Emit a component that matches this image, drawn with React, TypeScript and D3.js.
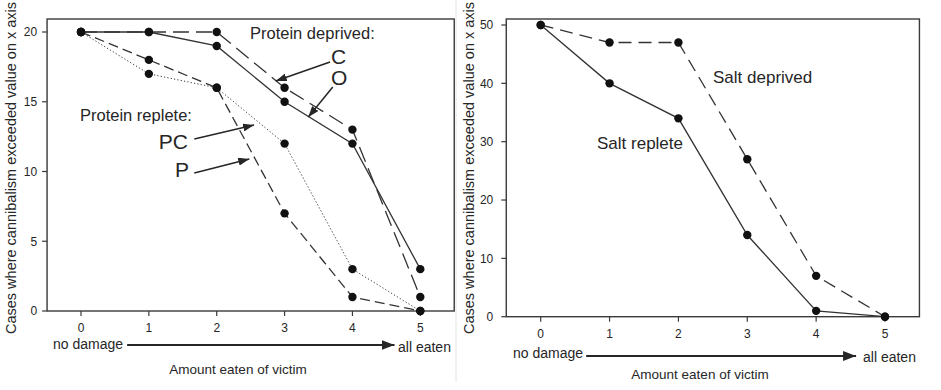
import React, { useEffect, useRef } from 'react';
import * as d3 from 'd3';

// amount eaten categories (0 = no damage, 5 = all eaten)
const amounts = [0, 1, 2, 3, 4, 5];

// left panel: protein experiment
const proteinC = [20, 20, 20, 16, 13, 1];
const proteinO = [20, 20, 19, 15, 12, 3];
const proteinPC = [20, 17, 16, 12, 3, 0];
const proteinP = [20, 18, 16, 7, 1, 0];
const leftYTicks = [0, 5, 10, 15, 20];

// right panel: salt experiment
const saltDeprived = [50, 47, 47, 27, 7, 0];
const saltReplete = [50, 40, 34, 14, 1, 0];
const rightYTicks = [0, 10, 20, 30, 40, 50];

const FONT = '"Liberation Sans", Arial, Helvetica, sans-serif';
const INK = '#262626';

const App = () => {
  const svgRef = useRef<SVGSVGElement>(null);

  useEffect(() => {
    if (!svgRef.current) return;
    const svg = d3.select(svgRef.current);
    svg.selectAll('*').remove();

    const defs = svg.append('defs');
    const addMarker = (id: string, w: number, h: number) => {
      defs.append('marker')
        .attr('id', id)
        .attr('viewBox', `0 0 ${w} ${h}`)
        .attr('refX', w)
        .attr('refY', h / 2)
        .attr('markerWidth', w)
        .attr('markerHeight', h)
        .attr('markerUnits', 'userSpaceOnUse')
        .attr('orient', 'auto')
        .append('path')
        .attr('d', `M0,0L${w},${h / 2}L0,${h}Z`)
        .attr('fill', INK);
    };
    addMarker('head-small', 11, 8);
    addMarker('head-axis', 13, 10);

    // divider between the two images
    svg.append('line')
      .attr('x1', 456).attr('x2', 456)
      .attr('y1', 0).attr('y2', 382)
      .attr('stroke', '#e4e4e4')
      .attr('stroke-width', 1);

    type Series = { values: number[]; dash: string; width: number };

    const drawPanel = (opts: {
      x: d3.ScaleLinear<number, number>;
      y: d3.ScaleLinear<number, number>;
      top: number;
      yTicks: number[];
      series: Series[];
      tickBaseline: number;
      yLabelX: number;
      tickLabelGap: number;
    }) => {
      const { x, y, top, yTicks, series } = opts;
      const g = svg.append('g');
      const [x0, x1] = [x(-0.5), x(5.5)];
      const bottom = y(0);

      g.append('rect')
        .attr('x', x0).attr('y', top)
        .attr('width', x1 - x0).attr('height', bottom - top)
        .attr('fill', 'none')
        .attr('stroke', '#3a3a3a')
        .attr('stroke-width', 1.4);

      // y ticks
      yTicks.forEach(t => {
        g.append('line')
          .attr('x1', x0 - 5).attr('x2', x0)
          .attr('y1', y(t)).attr('y2', y(t))
          .attr('stroke', '#3a3a3a').attr('stroke-width', 1.2);
        g.append('text')
          .attr('x', x0 - opts.tickLabelGap).attr('y', y(t))
          .attr('dy', '0.36em')
          .attr('text-anchor', 'end')
          .attr('font-size', 12)
          .attr('fill', INK)
          .text(t);
      });

      // x ticks
      amounts.forEach(a => {
        g.append('line')
          .attr('x1', x(a)).attr('x2', x(a))
          .attr('y1', bottom).attr('y2', bottom + 5)
          .attr('stroke', '#3a3a3a').attr('stroke-width', 1.2);
        g.append('text')
          .attr('x', x(a)).attr('y', opts.tickBaseline)
          .attr('text-anchor', 'middle')
          .attr('font-size', 12)
          .attr('fill', INK)
          .text(a);
      });

      // y label
      g.append('text')
        .attr('transform', `translate(${opts.yLabelX},168) rotate(-90)`)
        .attr('text-anchor', 'middle')
        .attr('dy', '0.35em')
        .attr('font-size', 14.5)
        .attr('fill', INK)
        .text('Cases where cannibalism exceeded value on x axis');

      const line = d3.line<number>()
        .x((_, i) => x(amounts[i]))
        .y(d => y(d));

      series.forEach(s => {
        g.append('path')
          .datum(s.values)
          .attr('fill', 'none')
          .attr('stroke', '#333')
          .attr('stroke-width', s.width)
          .attr('stroke-dasharray', s.dash)
          .attr('d', line);
      });
      series.forEach(s => {
        g.selectAll(null)
          .data(s.values)
          .join('circle')
          .attr('cx', (_, i) => x(amounts[i]))
          .attr('cy', d => y(d))
          .attr('r', 4.2)
          .attr('fill', '#111');
      });
      return g;
    };

    const text = (g: d3.Selection<SVGGElement, unknown, null, undefined>, px: number, py: number, s: string, size: number, anchor = 'start') =>
      g.append('text')
        .attr('x', px).attr('y', py)
        .attr('text-anchor', anchor)
        .attr('font-size', size)
        .attr('fill', INK)
        .text(s);

    const arrow = (g: d3.Selection<SVGGElement, unknown, null, undefined>, ax: number, ay: number, bx: number, by: number, marker: string, w = 1.5) =>
      g.append('line')
        .attr('x1', ax).attr('y1', ay)
        .attr('x2', bx).attr('y2', by)
        .attr('stroke', INK)
        .attr('stroke-width', w)
        .attr('marker-end', `url(#${marker})`);

    // ---- left panel ----
    const xL = d3.scaleLinear().domain([0, 5]).range([81, 420.3]);
    const yL = d3.scaleLinear().domain([0, 20]).range([311, 32]);
    const gL = drawPanel({
      x: xL, y: yL, top: 19, yTicks: leftYTicks,
      series: [
        { values: proteinC, dash: '16,7', width: 1.3 },
        { values: proteinO, dash: '', width: 1.3 },
        { values: proteinPC, dash: '1.2,2.2', width: 1 },
        { values: proteinP, dash: '10,5', width: 1.3 },
      ],
      tickBaseline: 332,
      yLabelX: 11,
      tickLabelGap: 10,
    });
    text(gL, 250, 39, 'Protein deprived:', 16.5);
    text(gL, 331, 64, 'C', 21);
    text(gL, 331, 85, 'O', 21);
    arrow(gL, xL(3.67), yL(17.85), xL(2.87), yL(16.49), 'head-small');
    arrow(gL, xL(3.71), yL(16.06), xL(3.35), yL(13.9), 'head-small');
    text(gL, 80, 121, 'Protein replete:', 16.5);
    text(gL, 188, 149, 'PC', 21, 'end');
    text(gL, 189, 177, 'P', 21, 'end');
    arrow(gL, xL(1.67), yL(12.33), xL(2.55), yL(13.33), 'head-small');
    arrow(gL, xL(1.67), yL(9.89), xL(2.48), yL(10.9), 'head-small');
    text(gL, 53, 349, 'no damage', 14);
    arrow(gL, xL(0.68), 345, xL(4.62), 345, 'head-axis', 1.8);
    text(gL, 398, 352, 'all eaten', 14);
    text(gL, 238, 374, 'Amount eaten of victim', 13.5, 'middle');

    // ---- right panel ----
    const xR = d3.scaleLinear().domain([0, 5]).range([540.7, 885]);
    const yR = d3.scaleLinear().domain([0, 50]).range([316.7, 25]);
    const gR = drawPanel({
      x: xR, y: yR, top: 19, yTicks: rightYTicks,
      series: [
        { values: saltDeprived, dash: '13,7', width: 1.3 },
        { values: saltReplete, dash: '', width: 1.3 },
      ],
      tickBaseline: 338,
      yLabelX: 469,
      tickLabelGap: 13,
    });
    text(gR, 713, 83, 'Salt deprived', 17);
    text(gR, 597, 149, 'Salt replete', 17);
    text(gR, 513, 358, 'no damage', 14);
    arrow(gR, xR(0.66), 356, xR(4.58), 356, 'head-axis', 1.8);
    text(gR, 863, 362, 'all eaten', 14);
    text(gR, 700, 379, 'Amount eaten of victim', 13.5, 'middle');
  }, []);

  return (
    <svg
      ref={svgRef}
      width={941}
      height={390}
      style={{ position: 'absolute', left: 0, top: 0, background: '#fff', fontFamily: FONT }}
    />
  );
};

export default App;
